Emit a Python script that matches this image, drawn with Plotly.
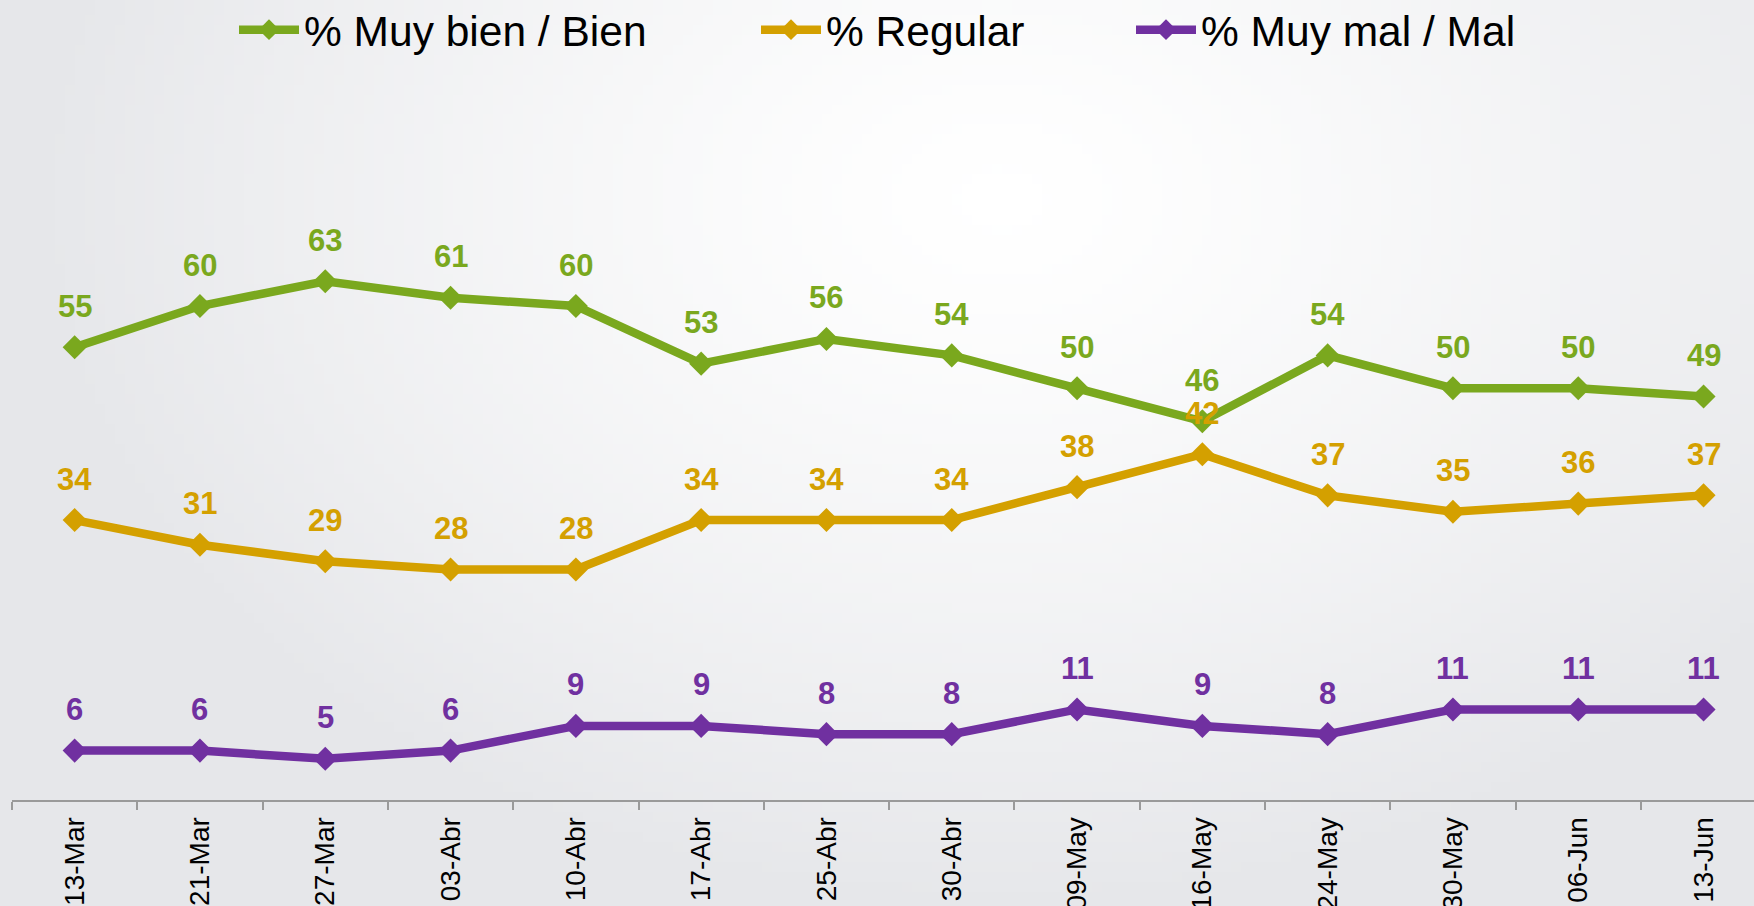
import base64, struct, zlib, math
import plotly.graph_objects as go

# ---------------- data ----------------
dates = ["13-Mar", "21-Mar", "27-Mar", "03-Abr", "10-Abr", "17-Abr", "25-Abr",
         "30-Abr", "09-May", "16-May", "24-May", "30-May", "06-Jun", "13-Jun"]
muy_bien_bien = [55, 60, 63, 61, 60, 53, 56, 54, 50, 46, 54, 50, 50, 49]
regular = [34, 31, 29, 28, 28, 34, 34, 34, 38, 42, 37, 35, 36, 37]
muy_mal_mal = [6, 6, 5, 6, 9, 9, 8, 8, 11, 9, 8, 11, 11, 11]
series_names = ["% Muy bien / Bien", "% Regular", "% Muy mal / Mal"]

# ---------------- style ----------------
W, H = 1754, 906
ML, MR, MT, MB = 12, 0, 59, 106
PW, PH = W - ML - MR, H - MT - MB
colors = ["#7AA81E", "#D4A000", "#7030A0"]
FONT = "Liberation Sans, Arial, sans-serif"


def gradient_png(w, h):
    cx, cy, rx, ry = 0.57, 0.22, 0.55, 0.78
    edge = (230, 231, 234)
    rows = b""
    for j in range(h):
        row = bytearray([0])
        for i in range(w):
            dx = ((i + 0.5) / w - cx) / rx
            dy = ((j + 0.5) / h - cy) / ry
            t = min(1.0, math.sqrt(dx * dx + dy * dy))
            s = t ** 1.3
            for c in edge:
                row.append(int(round(255 * (1 - s) + c * s)))
        rows += bytes(row)

    def chunk(tag, data):
        c = struct.pack(">I", len(data)) + tag + data
        return c + struct.pack(">I", zlib.crc32(tag + data) & 0xFFFFFFFF)

    png = b"\x89PNG\r\n\x1a\n"
    png += chunk(b"IHDR", struct.pack(">IIBBBBB", w, h, 8, 2, 0, 0, 0))
    png += chunk(b"IDAT", zlib.compress(rows, 9))
    png += chunk(b"IEND", b"")
    return "data:image/png;base64," + base64.b64encode(png).decode()


fig = go.Figure()
all_series = [muy_bien_bien, regular, muy_mal_mal]
legend_ids = ["legend", "legend2", "legend3"]
for vals, name, col, lg in zip(all_series, series_names, colors, legend_ids):
    fig.add_trace(go.Scatter(
        x=dates, y=vals, name=name, mode="lines+markers",
        line=dict(color=col, width=8.5),
        marker=dict(symbol="diamond", size=18.5, color=col),
        legend=lg, cliponaxis=False,
    ))

annotations = []
for vals, col in zip(all_series, colors):
    for d, v in zip(dates, vals):
        annotations.append(dict(
            x=d, y=v, xref="x", yref="y", text=str(v), showarrow=False,
            yshift=41, font=dict(size=31, color=col, family=FONT, weight="bold"),
        ))

leg_common = dict(orientation="h", yanchor="middle", y=1 + (MT - 30) / PH,
                  xanchor="left", bgcolor="rgba(0,0,0,0)", borderwidth=0,
                  font=dict(size=42.5, color="#000000", family=FONT), itemwidth=60)
leg_px = [234, 756, 1131]

fig.update_layout(
    width=W, height=H,
    margin=dict(l=ML, r=MR, t=MT, b=MB, autoexpand=False),
    paper_bgcolor="#EBECEE", plot_bgcolor="rgba(0,0,0,0)",
    showlegend=True,
    legend=dict(x=(leg_px[0] - ML) / PW, **leg_common),
    legend2=dict(x=(leg_px[1] - ML) / PW, **leg_common),
    legend3=dict(x=(leg_px[2] - ML) / PW, **leg_common),
    annotations=annotations,
    images=[dict(source=gradient_png(176, 91), xref="paper", yref="paper",
                 x=-ML / PW, y=1 + MT / PH, sizex=W / PW, sizey=H / PH,
                 xanchor="left", yanchor="top", sizing="stretch", layer="below")],
    xaxis=dict(type="category", range=[-0.5, -0.5 + PW / 125.3],
               automargin=False,
               showgrid=False, zeroline=False, showline=True,
               linecolor="#9A9A9A", linewidth=2,
               ticks="outside", tickson="boundaries", ticklen=8, tickwidth=2,
               tickcolor="#9A9A9A", tickangle=-90, ticklabelstandoff=4,
               tickfont=dict(size=28, color="#000000", family=FONT)),
    yaxis=dict(range=[0, 90], visible=False, showgrid=False, zeroline=False,
               automargin=False),
)

fig.write_html(
    "out.html",
    config={"displayModeBar": False},
    post_script="document.body.style.margin='0';document.body.style.padding='0';"
                "document.body.style.overflow='hidden';",
)
